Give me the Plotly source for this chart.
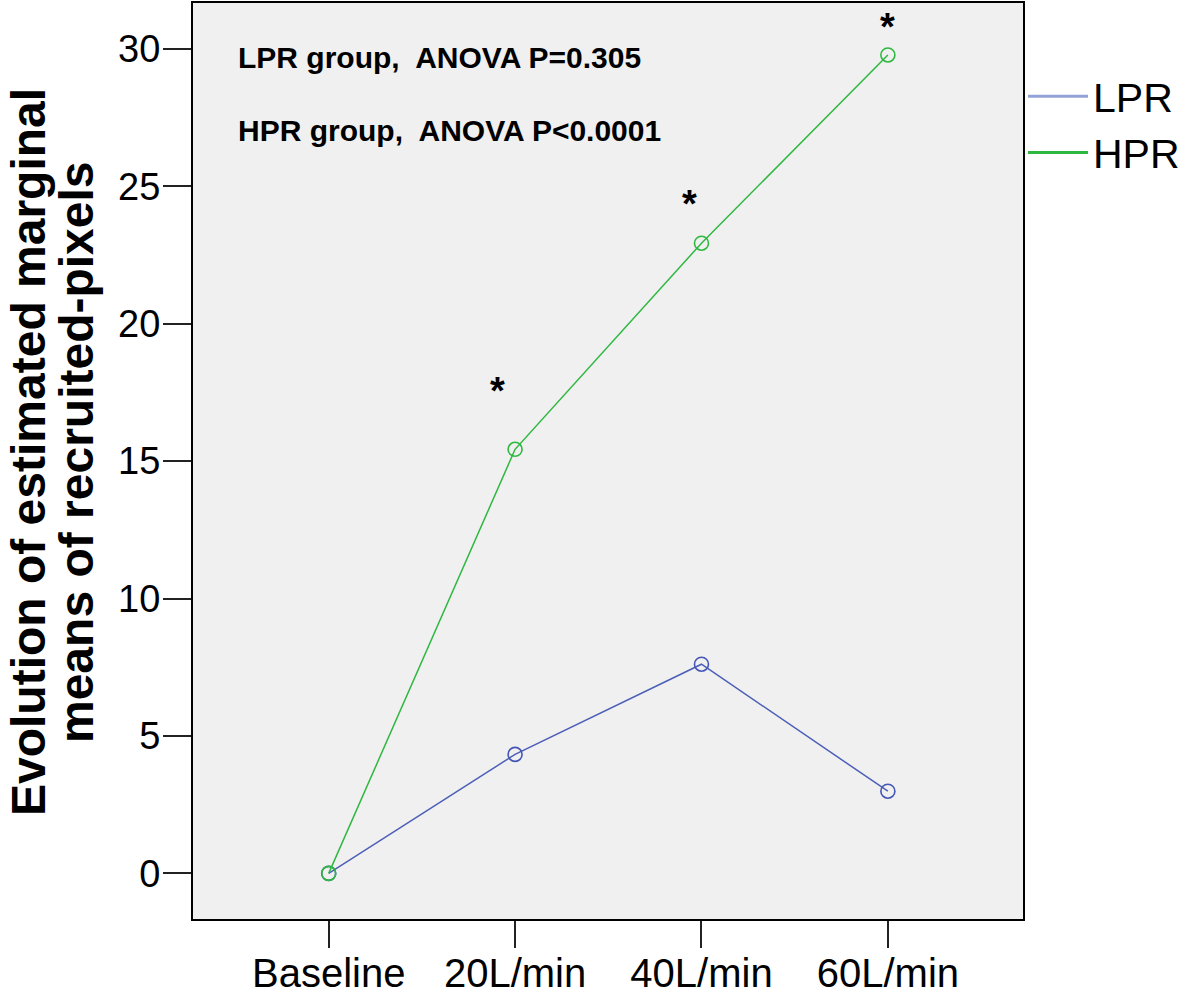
import plotly.graph_objects as go

categories = ["Baseline", "20L/min", "40L/min", "60L/min"]
x_idx = [0, 1, 2, 3]
lpr_values = [0.0, 4.33, 7.61, 2.99]
hpr_values = [0.0, 15.43, 22.93, 29.78]
y_ticks = [0, 5, 10, 15, 20, 25, 30]
star_idx = [1, 2, 3]
star_dx = [-18, -12, 0]
star_dy = [58, 39, 28]
anova_texts = ["LPR group,\u00a0 ANOVA P=0.305", "HPR group,\u00a0 ANOVA P&lt;0.0001"]
ytitle_lines = ["Evolution of estimated marginal", "means of recruited-pixels"]

W, H = 1181, 994
L, R, T, B = 193, 158, 3, 75
pw, ph = W - L - R, H - T - B

def px_x(p):
    return (p - L) / pw

def px_y(p):
    return (H - B - p) / ph

series = [("LPR", lpr_values, "#4d5fb8", "#4455b5", "#95a2d8"),
          ("HPR", hpr_values, "#2fb840", "#2fb840", "#2fb840")]

fig = go.Figure()
for name, vals, lc, mc, gc in series:
    fig.add_trace(go.Scatter(
        x=x_idx, y=vals, name=name, mode="lines+markers", showlegend=False,
        line=dict(color=lc, width=1.5),
        marker=dict(symbol="circle-open", size=14, color=mc, line=dict(width=1.6)),
    ))
for name, vals, lc, mc, gc in series:
    fig.add_trace(go.Scatter(
        x=[None], y=[None], name=name, mode="lines", showlegend=True,
        line=dict(color=gc, width=3),
    ))

annotations = []
for i, dx, dy in zip(star_idx, star_dx, star_dy):
    annotations.append(dict(
        x=x_idx[i], y=hpr_values[i], xref="x", yref="y", text="<b>*</b>", showarrow=False,
        xshift=dx, yshift=dy, font=dict(family="Liberation Sans", size=38, color="black"),
    ))
for t, ypx in zip(anova_texts, [58, 130]):
    annotations.append(dict(
        x=px_x(236), y=px_y(ypx), xref="paper", yref="paper", text="<b>" + t + "</b>",
        showarrow=False, xanchor="left", yanchor="middle",
        font=dict(family="Liberation Sans", size=30, color="black"),
    ))
for t, xpx in zip(ytitle_lines, [28, 76]):
    annotations.append(dict(
        x=px_x(xpx), y=px_y(452), xref="paper", yref="paper", text="<b>" + t + "</b>",
        showarrow=False, xanchor="center", yanchor="middle", textangle=-90, borderpad=0,
        font=dict(family="Liberation Sans", size=48, color="black"),
    ))

fig.update_layout(
    width=W, height=H,
    margin=dict(l=L, r=R, t=T, b=B, pad=0, autoexpand=False),
    paper_bgcolor="white", plot_bgcolor="#f0f0f0",
    showlegend=True,
    legend=dict(x=1.0, y=px_y(63), xanchor="left", yanchor="top",
                font=dict(family="Liberation Sans", size=41, color="black"),
                bgcolor="rgba(0,0,0,0)", itemwidth=60, tracegroupgap=0),
    annotations=annotations,
    font=dict(family="Liberation Sans", color="black"),
)
fig.update_xaxes(
    range=[-0.728, 3.725], tickmode="array", tickvals=x_idx, ticktext=categories,
    ticks="outside", ticklen=27, tickwidth=1.5, tickcolor="#222",
    showline=True, linecolor="black", linewidth=2, mirror=True,
    showgrid=False, zeroline=False, ticklabelstandoff=-9,
    tickfont=dict(family="Liberation Sans", size=40, color="black"),
)
fig.update_yaxes(
    range=[-1.66, 31.67], tickmode="array", tickvals=y_ticks,
    ticks="outside", ticklen=28, tickwidth=1.5, tickcolor="#222",
    showline=True, linecolor="black", linewidth=2, mirror=True,
    showgrid=False, zeroline=False, ticklabelstandoff=-5,
    tickfont=dict(family="Liberation Sans", size=38, color="black"),
)
fig.write_html("out.html", config={"displayModeBar": False},
               post_script="document.body.style.margin='0';document.body.style.overflow='hidden';")
